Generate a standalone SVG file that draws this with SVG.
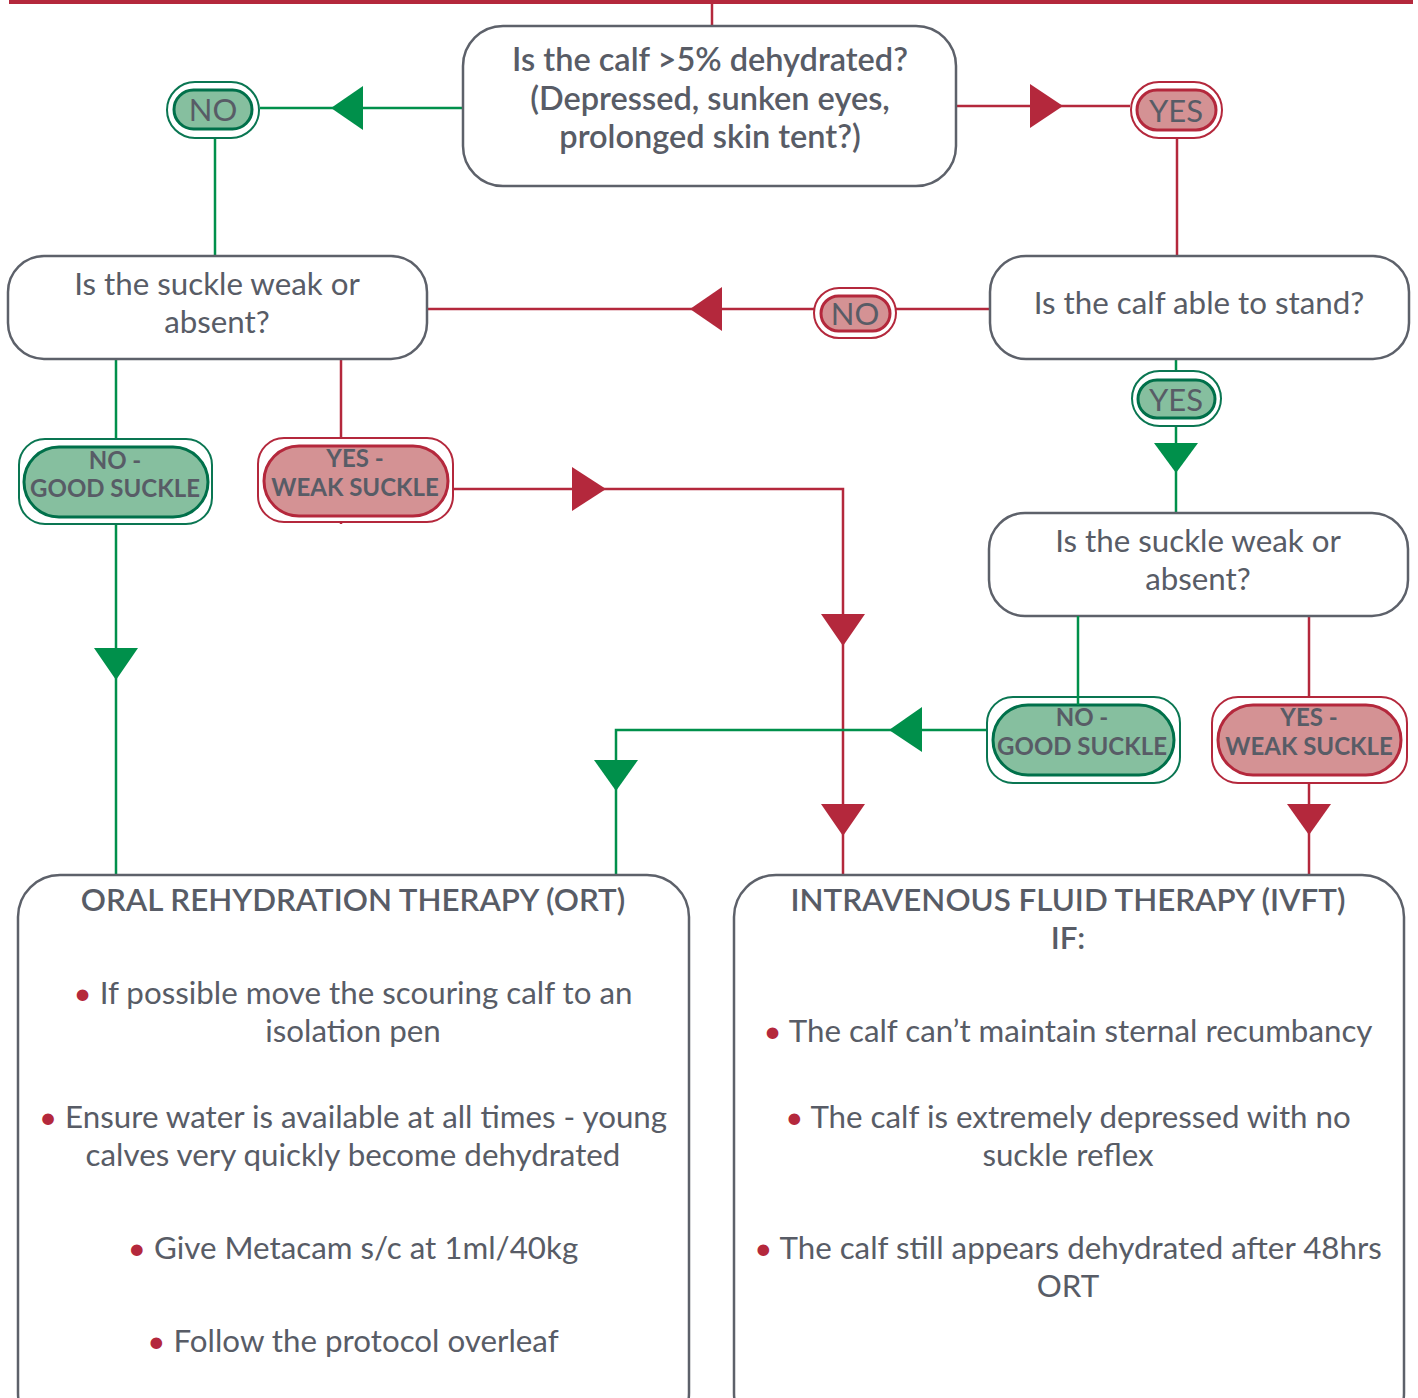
<svg xmlns="http://www.w3.org/2000/svg" width="1418" height="1398" viewBox="0 0 1418 1398">
<style>
.box{fill:#fff;stroke:#5d616a;stroke-width:2.5}
.t{font-family:Lato,"Open Sans","Liberation Sans",sans-serif;fill:#585c66;text-anchor:middle}
.q{font-size:31.3px}
.h{font-size:31.3px;font-weight:600}
.top{font-size:32.5px;font-weight:600}
.pt{font-size:31px}
.pb{font-size:24px;font-weight:700}
.b{fill:#b4283c}
.gl{stroke:#00904b;stroke-width:2.5;fill:none}
.rl{stroke:#b4283c;stroke-width:2.5;fill:none}
.ga{fill:#00904b}
.ra{fill:#b4283c}
.go{fill:#fff;stroke:#0a7652;stroke-width:2}
.gi{fill:#86bf9f;stroke:#00704a;stroke-width:3}
.ro{fill:#fff;stroke:#b4283c;stroke-width:2}
.ri{fill:#d49294;stroke:#b4283c;stroke-width:3}
</style>
<rect x="9" y="0" width="1404" height="4" fill="#b4283c"/>
<g id="connectors">
<line class="rl" x1="712" y1="0" x2="712" y2="26"/>
<line class="gl" x1="260" y1="108" x2="463" y2="108"/>
<polygon class="ga" points="331,108 363,86 363,130"/>
<line class="gl" x1="215" y1="139" x2="215" y2="256"/>
<line class="rl" x1="956" y1="106" x2="1130" y2="106"/>
<polygon class="ra" points="1063,106 1030,84 1030,128"/>
<line class="rl" x1="1177" y1="139" x2="1177" y2="256"/>
<line class="rl" x1="427" y1="309" x2="990" y2="309"/>
<polygon class="ra" points="690,309 722,287 722,331"/>
<line class="gl" x1="1176" y1="359" x2="1176" y2="513"/>
<polygon class="ga" points="1176,473 1154,443 1198,443"/>
<line class="gl" x1="116" y1="360" x2="116" y2="875"/>
<polygon class="ga" points="116,680 94,648 138,648"/>
<line class="rl" x1="341" y1="360" x2="341" y2="524"/>
<polyline class="rl" points="453,489 843,489 843,875"/>
<polygon class="ra" points="606,489 572,467 572,511"/>
<polygon class="ra" points="843,646 821,614 865,614"/>
<polygon class="ra" points="843,836 821,804 865,804"/>
<polyline class="gl" points="986,730 616,730 616,875"/>
<polygon class="ga" points="889,730 922,707 922,752"/>
<polygon class="ga" points="616,791 594,760 638,760"/>
<line class="rl" x1="1309" y1="616" x2="1309" y2="697"/>
<line class="rl" x1="1309" y1="783" x2="1309" y2="875"/>
<polygon class="ra" points="1309,835 1287,804 1331,804"/>
</g>
<g id="q1">
<rect class="box" x="463" y="26" width="493" height="160" rx="40"/>
<text class="t top" x="710" y="71">Is the calf &gt;5% dehydrated?</text>
<text class="t top" x="710" y="110">(Depressed, sunken eyes,</text>
<text class="t top" x="710" y="148">prolonged skin tent?)</text>
</g>
<g id="no1">
<rect class="go" x="167" y="82" width="92" height="56" rx="28"/>
<rect class="gi" x="174" y="90" width="78" height="39" rx="19.5"/>
<text class="t pt" x="213" y="121">NO</text>
</g>
<g id="yes1">
<rect class="ro" x="1131" y="82" width="91" height="56" rx="28"/>
<rect class="ri" x="1137" y="90" width="79" height="40" rx="20"/>
<text class="t pt" x="1176" y="122">YES</text>
</g>
<g id="q2">
<rect class="box" x="8" y="256" width="419" height="103" rx="36"/>
<text class="t q" x="217" y="295">Is the suckle weak or</text>
<text class="t q" x="217" y="333">absent?</text>
</g>
<g id="q3">
<rect class="box" x="990" y="256" width="419" height="103" rx="36"/>
<text class="t q" x="1199" y="314">Is the calf able to stand?</text>
</g>
<g id="no2">
<rect class="ro" x="814" y="288" width="82" height="50" rx="25"/>
<rect class="ri" x="821" y="296" width="69" height="35" rx="17.5"/>
<text class="t pt" x="855" y="325">NO</text>
</g>
<g id="yes2">
<rect class="go" x="1132" y="371" width="89" height="55" rx="27.5"/>
<rect class="gi" x="1138" y="380" width="77" height="38" rx="19"/>
<text class="t pt" x="1176" y="411">YES</text>
</g>
<g id="q4">
<rect class="box" x="989" y="513" width="419" height="103" rx="36"/>
<text class="t q" x="1198" y="552">Is the suckle weak or</text>
<text class="t q" x="1198" y="590">absent?</text>
</g>
<g id="good1">
<rect class="go" x="19" y="439" width="193" height="85" rx="26"/>
<rect class="gi" x="24" y="447" width="184" height="70" rx="35"/>
<text class="t pb" x="115" y="469">NO -</text>
<text class="t pb" x="115" y="497">GOOD SUCKLE</text>
</g>
<g id="weak1">
<rect class="ro" x="258" y="438" width="195" height="84" rx="26"/>
<rect class="ri" x="264" y="446" width="184" height="70" rx="35"/>
<text class="t pb" x="355" y="467">YES -</text>
<text class="t pb" x="355" y="496">WEAK SUCKLE</text>
</g>
<g id="good2">
<rect class="go" x="987" y="697" width="193" height="86" rx="26"/>
<rect class="gi" x="993" y="705" width="181" height="70" rx="35"/>
<text class="t pb" x="1082" y="726">NO -</text>
<text class="t pb" x="1082" y="755">GOOD SUCKLE</text>
</g>
<line class="gl" x1="1078" y1="616" x2="1078" y2="705"/>
<g id="weak2">
<rect class="ro" x="1212" y="697" width="195" height="86" rx="26"/>
<rect class="ri" x="1218" y="705" width="183" height="70" rx="35"/>
<text class="t pb" x="1309" y="726">YES -</text>
<text class="t pb" x="1309" y="755">WEAK SUCKLE</text>
</g>
<g id="ort">
<rect class="box" x="18" y="875" width="671" height="560" rx="42"/>
<text class="t h" x="353" y="911">ORAL REHYDRATION THERAPY (ORT)</text>
<text class="t q" x="353" y="1004"><tspan class="b">•</tspan> If possible move the scouring calf to an</text>
<text class="t q" x="353" y="1042">isolation pen</text>
<text class="t q" x="353" y="1128"><tspan class="b">•</tspan> Ensure water is available at all times - young</text>
<text class="t q" x="353" y="1166">calves very quickly become dehydrated</text>
<text class="t q" x="353" y="1259"><tspan class="b">•</tspan> Give Metacam s/c at 1ml/40kg</text>
<text class="t q" x="353" y="1352"><tspan class="b">•</tspan> Follow the protocol overleaf</text>
</g>
<g id="ivft">
<rect class="box" x="734" y="875" width="670" height="560" rx="42"/>
<text class="t h" x="1068" y="911">INTRAVENOUS FLUID THERAPY (IVFT)</text>
<text class="t h" x="1068" y="949">IF:</text>
<text class="t q" x="1068" y="1042"><tspan class="b">•</tspan> The calf can’t maintain sternal recumbancy</text>
<text class="t q" x="1068" y="1128"><tspan class="b">•</tspan> The calf is extremely depressed with no</text>
<text class="t q" x="1068" y="1166">suckle reflex</text>
<text class="t q" x="1068" y="1259"><tspan class="b">•</tspan> The calf still appears dehydrated after 48hrs</text>
<text class="t q" x="1068" y="1297">ORT</text>
</g>
</svg>
